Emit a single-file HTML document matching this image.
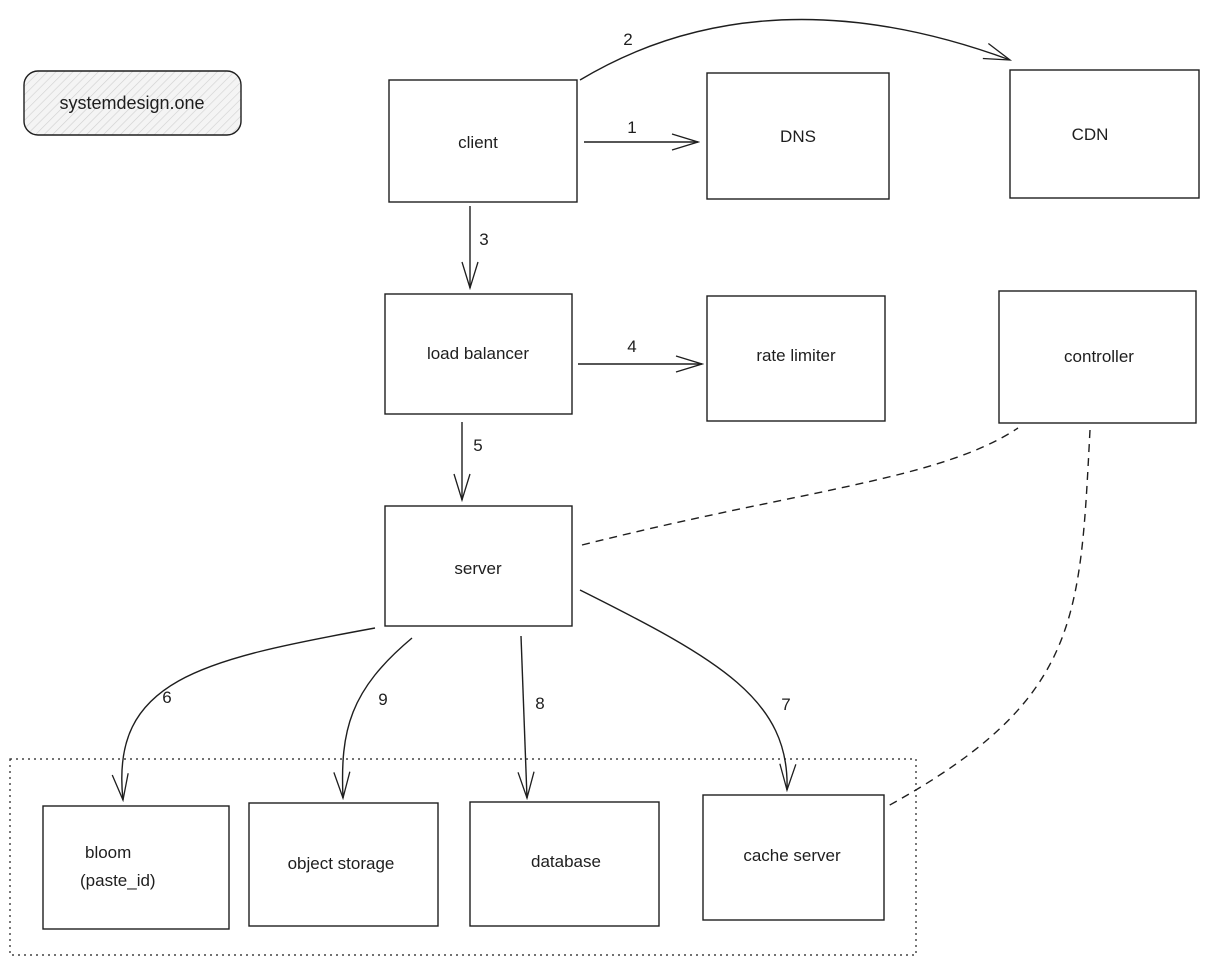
<!DOCTYPE html>
<html><head><meta charset="utf-8"><style>
html,body{margin:0;padding:0;background:#fff;width:1209px;height:965px;overflow:hidden}
text{font-family:"Liberation Sans",sans-serif;font-size:17px;fill:#1e1e1e}
</style></head><body>
<svg width="1209" height="965" viewBox="0 0 1209 965" xmlns="http://www.w3.org/2000/svg">
<defs>
<pattern id="h" width="6" height="6" patternUnits="userSpaceOnUse" patternTransform="rotate(45)">
<rect width="6" height="6" fill="#f4f4f4"/><line x1="0" y1="0" x2="0" y2="6" stroke="#d0d0d0" stroke-width="1.2"/></pattern>
<marker id="a" markerWidth="30" markerHeight="20" refX="28" refY="10" orient="auto" markerUnits="userSpaceOnUse">
<path d="M2,2 L28,10 L2,18" fill="none" stroke="#1e1e1e" stroke-width="1.3"/></marker>
</defs>
<g fill="none" stroke="#1e1e1e" stroke-width="1.4">
<rect x="24" y="71" width="217" height="64" rx="14" fill="url(#h)"/>
<rect x="389" y="80" width="188" height="122"/>
<rect x="707" y="73" width="182" height="126"/>
<rect x="1010" y="70" width="189" height="128"/>
<rect x="385" y="294" width="187" height="120"/>
<rect x="707" y="296" width="178" height="125"/>
<rect x="999" y="291" width="197" height="132"/>
<rect x="385" y="506" width="187" height="120"/>
<rect x="43" y="806" width="186" height="123"/>
<rect x="249" y="803" width="189" height="123"/>
<rect x="470" y="802" width="189" height="124"/>
<rect x="703" y="795" width="181" height="125"/>
<rect x="10" y="759" width="906" height="196" stroke-dasharray="2,4" stroke-width="1.2"/>
<line x1="584" y1="142" x2="698" y2="142" marker-end="url(#a)"/>
<path d="M580,80 C680,20 820,-10 1010,60" marker-end="url(#a)"/>
<line x1="470" y1="206" x2="470" y2="288" marker-end="url(#a)"/>
<line x1="578" y1="364" x2="702" y2="364" marker-end="url(#a)"/>
<line x1="462" y1="422" x2="462" y2="500" marker-end="url(#a)"/>
<path d="M375,628 C200,660 110,680 123,800" marker-end="url(#a)"/>
<path d="M412,638 C350,690 340,730 343,798" marker-end="url(#a)"/>
<path d="M521,636 L527,798" marker-end="url(#a)"/>
<path d="M580,590 C720,660 790,700 787,790" marker-end="url(#a)"/>
<path d="M582,545 C800,490 940,480 1018,428" stroke-dasharray="8,6"/>
<path d="M1090,430 C1080,620 1080,700 888,806" stroke-dasharray="8,6"/>
</g>
<text x="132" y="109" text-anchor="middle" style="font-size:18px">systemdesign.one</text>
<text x="478" y="148" text-anchor="middle">client</text>
<text x="798" y="142" text-anchor="middle">DNS</text>
<text x="1090" y="140" text-anchor="middle">CDN</text>
<text x="478" y="359" text-anchor="middle">load balancer</text>
<text x="796" y="361" text-anchor="middle">rate limiter</text>
<text x="1099" y="362" text-anchor="middle">controller</text>
<text x="478" y="574" text-anchor="middle">server</text>
<text x="85" y="858">bloom</text>
<text x="80" y="886">(paste_id)</text>
<text x="341" y="869" text-anchor="middle">object storage</text>
<text x="566" y="867" text-anchor="middle">database</text>
<text x="792" y="861" text-anchor="middle">cache server</text>
<text x="632" y="133" text-anchor="middle">1</text>
<text x="628" y="45" text-anchor="middle">2</text>
<text x="484" y="245" text-anchor="middle">3</text>
<text x="632" y="352" text-anchor="middle">4</text>
<text x="478" y="451" text-anchor="middle">5</text>
<text x="167" y="703" text-anchor="middle">6</text>
<text x="383" y="705" text-anchor="middle">9</text>
<text x="540" y="709" text-anchor="middle">8</text>
<text x="786" y="710" text-anchor="middle">7</text>
</svg>
</body></html>
